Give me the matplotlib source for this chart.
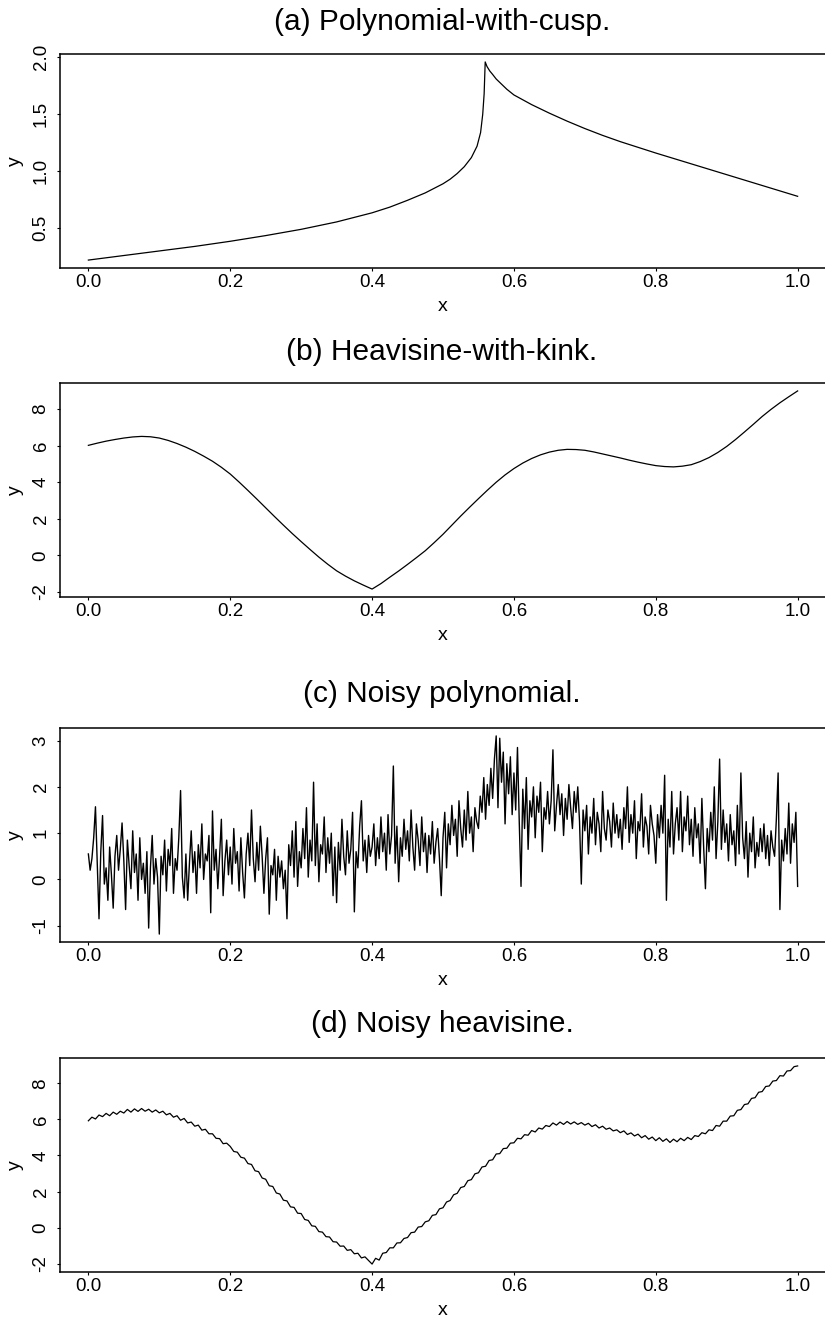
import matplotlib
matplotlib.use('Agg')
import matplotlib.pyplot as plt
import numpy as np

plt.rcParams['font.family'] = ['Liberation Sans', 'DejaVu Sans']
plt.rcParams['axes.unicode_minus'] = False

titles = ['(a) Polynomial-with-cusp.', '(b) Heavisine-with-kink.',
          '(c) Noisy polynomial.', '(d) Noisy heavisine.']

# (a) polynomial with cusp
cusp_x = [0.0, 0.05, 0.1, 0.15, 0.2, 0.25, 0.3, 0.35, 0.4, 0.425, 0.45, 0.475,
          0.5, 0.51, 0.52, 0.53, 0.54, 0.548, 0.553, 0.556, 0.558, 0.5595,
          0.562, 0.566, 0.57, 0.575, 0.58, 0.59, 0.6, 0.625, 0.65, 0.675, 0.7,
          0.725, 0.75, 0.775, 0.8, 0.85, 0.9, 0.95, 1.0]
cusp_y = [0.22, 0.26, 0.30, 0.34, 0.385, 0.435, 0.49, 0.555, 0.635, 0.685,
          0.745, 0.81, 0.89, 0.93, 0.98, 1.04, 1.12, 1.22, 1.34, 1.50, 1.68,
          1.96, 1.92, 1.88, 1.85, 1.81, 1.78, 1.72, 1.67, 1.585, 1.51, 1.44,
          1.375, 1.315, 1.26, 1.21, 1.16, 1.065, 0.97, 0.875, 0.78]

# (b) heavisine with kink, 81 readings on [0, 1]
kink_y = [6.02, 6.14, 6.25, 6.34, 6.42, 6.48, 6.51, 6.49, 6.42, 6.29,
          6.12, 5.92, 5.69, 5.43, 5.15, 4.82, 4.45, 4.01, 3.55, 3.08,
          2.6, 2.12, 1.65, 1.19, 0.75, 0.32, -0.1, -0.49, -0.85, -1.14,
          -1.4, -1.63, -1.85, -1.55, -1.2, -0.86, -0.5, -0.13, 0.25, 0.69,
          1.15, 1.65, 2.15, 2.63, 3.1, 3.56, 4.0, 4.4, 4.75, 5.05,
          5.3, 5.5, 5.65, 5.75, 5.8, 5.79, 5.75, 5.66, 5.55, 5.44,
          5.33, 5.21, 5.1, 5.0, 4.91, 4.86, 4.84, 4.88, 4.96, 5.13,
          5.35, 5.63, 5.96, 6.34, 6.75, 7.17, 7.6, 7.99, 8.35, 8.68,
          9.0]

# (c) noisy polynomial, 401 samples on [0, 1]
noisy_poly = [
    0.55, 0.2, 0.45, 0.9, 1.57, 0.35, -0.85, 0.6, 1.38, -0.1, 0.25, -0.45, 0.7, 0.1, -0.62, 0.5, 0.95, 0.2, 0.65, 1.22,
    0.4, -0.65, 0.85, 0.3, -0.2, 1.05, 0.15, 0.55, -0.45, 0.9, 0.0, 0.35, -0.3, 0.6, -1.05, 0.25, 0.95, -0.1, 0.45, 0.05,
    -1.18, 0.5, 0.1, 0.85, -0.25, 0.65, 0.3, 1.1, -0.3, 0.45, 0.2, 0.9, 1.92, 0.05, -0.4, 0.55, -0.45, 0.35, 1.05, 0.15,
    0.6, -0.3, 0.75, 0.25, 1.2, 0.0, 0.55, 0.4, 0.95, -0.72, 1.48, 0.2, 0.65, -0.2, 0.5, 1.3, -0.35, 0.4, 0.85, 0.1,
    0.7, -0.1, 1.1, 0.35, 0.6, -0.25, 0.9, 0.15, -0.4, 0.55, 1.0, 0.3, 1.5, 0.45, -0.05, 0.8, 0.2, 1.15, 0.5, -0.3,
    0.45, 0.9, -0.75, 0.3, 0.1, 0.65, -0.45, 0.5, 0.05, 0.4, -0.2, 0.2, -0.85, 0.75, 0.3, 1.05, 0.05, 1.25, -0.15, 0.6,
    0.25, 1.1, 0.45, 1.55, 0.05, 0.85, 0.4, 2.1, 0.3, 1.2, -0.05, 0.75, 0.55, 1.35, 0.15, 0.9, 0.35, 1.0, -0.35, 0.7,
    -0.5, 0.8, 0.2, 1.3, 0.5, 0.1, 1.05, 0.35, 0.65, 1.45, -0.7, 0.6, 0.25, 1.15, 1.7, 0.4, 0.85, 0.15, 0.95, 0.5,
    0.7, 1.2, 0.3, 0.9, 0.45, 1.35, 0.6, 1.0, 0.2, 1.4, 0.55, 0.95, 2.45, 0.35, 1.15, -0.05, 0.9, 0.5, 1.3, 0.65,
    1.05, 0.4, 1.5, 0.7, 0.2, 1.2, 0.85, 0.3, 1.35, 0.6, 1.0, 0.15, 0.95, 0.55, 1.25, 0.35, 0.8, 1.1, 0.45, -0.35,
    0.9, 1.45, 0.25, 1.2, 0.75, 1.6, 0.95, 1.3, 0.5, 1.7, 1.1, 0.7, 1.5, 0.85, 1.9, 1.0, 1.35, 0.6, 1.55, 1.25,
    1.1, 1.8, 1.45, 2.2, 1.3, 2.05, 1.6, 2.4, 1.75, 2.6, 3.1, 1.55, 3.05, 2.1, 2.75, 1.2, 2.5, 1.85, 2.65, 1.4,
    2.3, 1.5, 2.85, 1.25, -0.15, 1.95, 1.1, 2.2, 0.65, 1.7, 1.35, 2.0, 0.9, 1.8, 1.45, 2.1, 0.6, 1.55, 1.3, 1.9,
    1.2, 1.7, 2.8, 1.05, 1.6, 2.05, 1.4, 1.85, 0.95, 1.75, 1.3, 2.05, 1.55, 1.1, 1.9, 1.45, 2.0, 1.25, -0.1, 1.5,
    1.05, 1.6, 0.55, 1.35, 1.0, 1.75, 0.75, 1.45, 1.2, 0.6, 1.9, 1.1, 0.85, 1.5, 1.25, 0.7, 1.65, 1.0, 1.4, 0.9,
    1.3, 0.65, 1.55, 1.1, 2.0, 0.8, 1.4, 1.0, 1.7, 0.45, 1.25, 1.05, 1.85, 0.7, 1.35, 1.15, 0.55, 1.6, 1.2, 0.95,
    0.35, 1.4, 0.9, 1.6, 1.0, 2.25, -0.45, 1.3, 0.7, 1.9, 0.55, 1.2, 1.55, 0.85, 1.9, 0.6, 1.35, 1.05, 1.8, 0.75,
    1.3, 0.5, 1.55, 0.9, 1.2, 0.35, 1.75, 0.7, -0.2, 1.1, 0.6, 1.45, 0.85, 2.0, 0.45, 1.25, 2.6, 0.65, 1.5, 0.8,
    1.2, 0.4, 1.4, 0.75, 1.05, 0.3, 1.6, 0.55, 2.3, 0.9, 0.45, 1.25, 0.05, 1.0, 0.6, 1.35, 0.25, 0.8, 0.5, 1.1,
    0.6, 1.2, 0.45, 0.95, 0.3, 1.05, 0.7, 0.5, 1.3, 2.3, -0.65, 0.85, 0.4, 1.1, 0.55, 1.65, 0.35, 1.2, 0.8, 1.45,
    -0.15]

# (d) noisy heavisine, 201 samples on [0, 1]
noisy_heavi = [
    5.92, 6.12, 6.02, 6.24, 6.15, 6.33, 6.2, 6.4, 6.28, 6.45,
    6.35, 6.55, 6.4, 6.58, 6.44, 6.6, 6.45, 6.56, 6.4, 6.52,
    6.36, 6.45, 6.25, 6.33, 6.12, 6.2, 5.95, 6.05, 5.8, 5.85,
    5.62, 5.68, 5.4, 5.45, 5.2, 5.2, 4.95, 4.93, 4.65, 4.68,
    4.5, 4.22, 4.18, 3.9, 3.85, 3.55, 3.5, 3.15, 3.1, 2.75,
    2.68, 2.32, 2.28, 1.92, 1.86, 1.52, 1.48, 1.15, 1.12, 0.8,
    0.78, 0.45, 0.4, 0.1, 0.07, -0.22, -0.25, -0.5, -0.52, -0.78,
    -0.8, -1.03, -1.02, -1.26, -1.22, -1.45, -1.42, -1.68, -1.62, -1.82,
    -2.02, -1.7, -1.8, -1.42, -1.38, -1.12, -1.12, -0.85, -0.84, -0.6,
    -0.55, -0.28, -0.25, 0.03, 0.06, 0.32, 0.38, 0.68, 0.72, 1.04,
    1.1, 1.42, 1.5, 1.82, 1.9, 2.22, 2.28, 2.6, 2.66, 2.98,
    3.04, 3.36, 3.4, 3.72, 3.76, 4.08, 4.1, 4.38, 4.4, 4.68,
    4.7, 4.95, 4.92, 5.15, 5.12, 5.38, 5.3, 5.52, 5.46, 5.66,
    5.6, 5.8, 5.68, 5.85, 5.72, 5.88, 5.74, 5.86, 5.72, 5.82,
    5.68, 5.78, 5.6, 5.7, 5.52, 5.62, 5.45, 5.52, 5.36, 5.42,
    5.26, 5.36, 5.16, 5.25, 5.08, 5.18, 4.98, 5.1, 4.9, 5.02,
    4.82, 4.98, 4.78, 4.92, 4.72, 4.9, 4.76, 4.95, 4.82, 5.0,
    4.88, 5.1, 5.05, 5.26, 5.2, 5.42, 5.38, 5.66, 5.62, 5.9,
    5.9, 6.18, 6.2, 6.5, 6.54, 6.82, 6.86, 7.16, 7.2, 7.5,
    7.54, 7.82, 7.85, 8.12, 8.15, 8.42, 8.4, 8.68, 8.7, 8.92,
    8.96]

yticks = [[0.5, 1.0, 1.5, 2.0], [-2, 0, 2, 4, 6, 8],
          [-1, 0, 1, 2, 3], [-2, 0, 2, 4, 6, 8]]
yticklabels = [['0.5', '1.0', '1.5', '2.0'], ['-2', '0', '2', '4', '6', '8'],
               ['-1', '0', '1', '2', '3'], ['-2', '0', '2', '4', '6', '8']]
xticks = [0.0, 0.2, 0.4, 0.6, 0.8, 1.0]
xticklabels = ['0.0', '0.2', '0.4', '0.6', '0.8', '1.0']

W, H = 825, 1330
fig = plt.figure(figsize=(W / 100., H / 100.), dpi=100)

series = [
    (cusp_x, cusp_y),
    (np.linspace(0, 1, len(kink_y)), kink_y),
    (np.linspace(0, 1, len(noisy_poly)), noisy_poly),
    (np.linspace(0, 1, len(noisy_heavi)), noisy_heavi),
]
widths = [0.9, 0.9, 1.0, 0.9]
tops = [54, 383, 728, 1058]
title_y = [22, 352, 694, 1024]

for i, (x, y) in enumerate(series):
    top = tops[i]
    ax = fig.add_axes([60. / W, 1 - (top + 214.) / H, 766. / W, 214. / H])
    ax.plot(x, y, color='black', lw=widths[i])
    ax.set_xlim(-0.04, 1.04)
    ax.margins(y=0.04)
    ax.set_xticks(xticks)
    ax.set_xticklabels(xticklabels)
    ax.set_yticks(yticks[i])
    ax.set_yticklabels(yticklabels[i], rotation=90, va='center')
    ax.tick_params(direction='out', length=2.5, width=0.8, labelsize=13.5)
    ax.tick_params(axis='x', pad=2)
    ax.tick_params(axis='y', pad=5)
    for s in ax.spines.values():
        s.set_linewidth(1.1)
    ax.set_xlabel('x', fontsize=14, labelpad=5)
    ax.set_ylabel('y', fontsize=14, labelpad=6)
    fig.text(442. / W, 1 - title_y[i] / float(H), titles[i],
             ha='center', va='center', fontsize=21.5)

fig.savefig('out.png', dpi=100)
